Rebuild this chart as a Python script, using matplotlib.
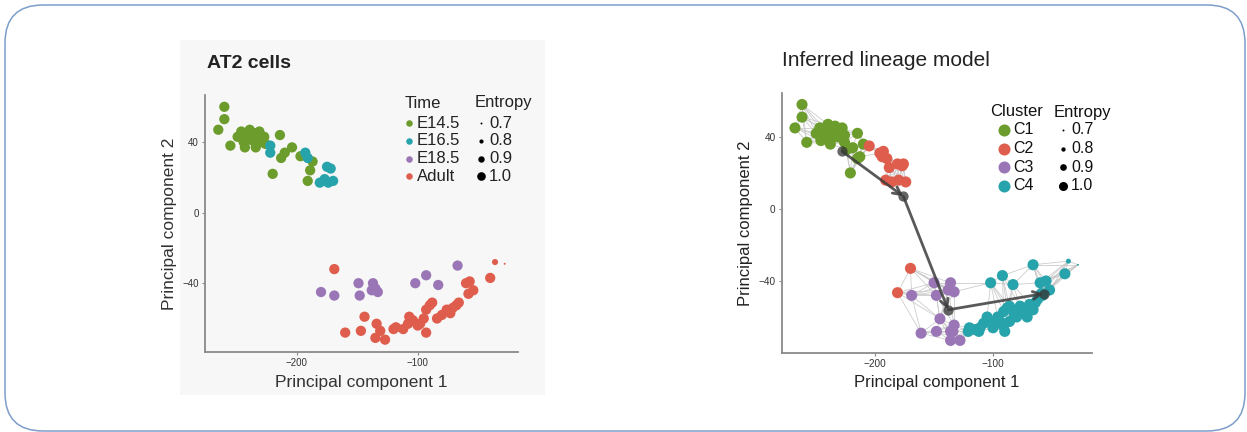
import numpy as np
import matplotlib.pyplot as plt
from matplotlib.patches import FancyBboxPatch, Rectangle
from matplotlib.collections import LineCollection

plt.rcParams['font.family'] = ['Liberation Sans', 'DejaVu Sans']

GREEN = '#6c9c2c'
TEAL = '#27a3ab'
PURPLE = '#9a76b6'
RED = '#df5d4d'

# ---- left panel: AT2 cells coloured by time point
time_labels = ['E14.5', 'E16.5', 'E18.5', 'Adult']

e145_x = [-260, -260, -265, -255, -249, -246, -244, -241, -239, -237, -235, -233, -231, -229,
          -227, -243, -234, -226, -214, -204, -213, -220, -210, -197, -187, -189, -191]
e145_y = [60, 53, 47, 38, 43, 46, 40, 44, 47, 41, 45, 42, 46, 40,
          43, 37, 37, 39, 44, 37, 31, 22, 34, 32, 29, 24, 18]
e145_ent = [1.0, 1.0, 1.0, 1.0, 1.0, 1.0, 1.0, 1.0, 1.0, 1.0, 1.0, 1.0, 1.0, 1.0,
            1.0, 1.0, 1.0, 1.0, 1.0, 1.0, 1.0, 1.0, 1.0, 1.0, 1.0, 1.0, 1.0]

e165_x = [-222, -222, -193, -191, -175, -172, -181, -174, -170, -177]
e165_y = [38, 34, 34, 31, 26, 25, 17, 17, 18, 19]
e165_ent = [1.0, 1.0, 1.0, 1.0, 1.0, 1.0, 1.0, 1.0, 1.0, 1.0]

e185_x = [-180, -169, -149, -148, -137, -135, -138, -133, -102, -93, -83, -67]
e185_y = [-45, -47, -40, -47, -40, -43, -44, -45, -40, -35.5, -41, -30]
e185_ent = [1.0, 1.0, 1.0, 1.0, 1.0, 1.0, 1.0, 1.0, 1.0, 1.0, 1.0, 1.0]

adult_x = [-169, -36, -40, -60, -57, -58, -54, -76, -71, -68, -73, -66, -90, -88, -93, -107,
           -104, -98, -95, -118, -112, -120, -108, -93, -134, -131, -135, -127, -144, -147,
           -160, -80, -100, -84, -28]
adult_y = [-32, -28, -37, -40, -39, -46, -44, -55, -54, -52.5, -57, -51, -52.5, -51, -55, -59,
           -61, -63, -60, -65, -66, -66, -63, -68, -63, -67, -71, -72, -59, -67,
           -68, -58, -64, -60, -29]
adult_ent = [1.0, 0.85, 1.0, 1.0, 1.0, 1.0, 1.0, 1.0, 1.0, 1.0, 1.0, 1.0, 1.0, 1.0, 1.0, 1.0,
             1.0, 1.0, 1.0, 1.0, 1.0, 1.0, 1.0, 1.0, 1.0, 1.0, 1.0, 1.0, 1.0, 1.0,
             1.0, 1.0, 1.0, 1.0, 0.7]

# ---- right panel: inferred clusters
cluster_labels = ['C1', 'C2', 'C3', 'C4']

c1_x = [-262, -262, -268, -258, -250, -247, -244, -242, -240, -238, -236, -234, -232, -230,
        -228, -226, -246, -238, -215, -219, -215, -213, -221, -226, -224, -210, -236]
c1_y = [58, 51, 45, 37, 42, 45, 40, 44, 47, 41, 44, 46, 40, 43,
        45, 41, 38, 36, 42, 34, 28, 29, 20, 37, 33, 36, 43]
c1_ent = [1.0, 1.0, 1.0, 1.0, 1.0, 1.0, 1.0, 1.0, 1.0, 1.0, 1.0, 1.0, 1.0, 1.0,
          1.0, 1.0, 1.0, 1.0, 1.0, 1.0, 1.0, 1.0, 1.0, 1.0, 1.0, 1.0, 1.0]

c2_x = [-205, -196, -193, -190, -194, -188, -181, -177, -176, -191, -186, -180, -174, -170, -181]
c2_y = [35, 31, 32, 28, 29, 23, 25, 24, 25, 16, 15, 16, 15, -33, -46.5]
c2_ent = [1.0, 1.0, 1.0, 1.0, 1.0, 1.0, 1.0, 1.0, 1.0, 1.0, 1.0, 1.0, 1.0, 1.0, 1.0]

c3_x = [-169, -150, -136, -138, -133, -148, -145, -133, -134, -161, -148, -136, -136, -128]
c3_y = [-48, -41, -41, -45, -46, -48, -61, -64.5, -68, -69, -68, -68, -73, -73]
c3_ent = [1.0, 1.0, 1.0, 1.0, 1.0, 1.0, 1.0, 1.0, 1.0, 1.0, 1.0, 1.0, 1.0, 1.0]

c4_x = [-102, -92, -83, -66, -60, -55, -52, -59, -36, -39, -28, -88, -86, -91, -77, -71, -69,
        -66, -74, -71, -105, -102, -108, -97, -94, -100, -111, -91, -86, -90, -120, -115,
        -112, -121, -80, -62, -58, -64, -82, -96]
c4_y = [-41, -37, -42, -31, -41, -40, -45, -47, -29, -36, -31, -55, -54, -57, -54, -55, -53,
        -56, -58, -60, -60, -63, -63.5, -63.5, -62.5, -66, -66, -65, -62.5, -68, -66, -67,
        -68, -68, -60, -50, -48, -52, -58, -60]
c4_ent = [1.0, 1.0, 1.0, 1.0, 1.0, 1.0, 1.0, 1.0, 0.8, 1.0, 0.7, 1.0, 1.0, 1.0, 1.0, 1.0, 1.0,
          1.0, 1.0, 1.0, 1.0, 1.0, 1.0, 1.0, 1.0, 1.0, 1.0, 1.0, 1.0, 1.0, 1.0, 1.0,
          1.0, 1.0, 1.0, 1.0, 1.0, 1.0, 1.0, 1.0]

# lineage path through cluster centres
path_x = [-228, -176, -138, -57]
path_y = [32, 7, -56, -47]

entropy_levels = [0.7, 0.8, 0.9, 1.0]


def ent_size(ent, dmax):
    # marker diameter (pt) grows with entropy
    d = 1.4 + (np.asarray(ent) - 0.7) / 0.3 * (dmax - 1.4)
    return d ** 2


fig = plt.figure(figsize=(12.47, 4.32), dpi=100)

# overlay in pixel coordinates for the frame, titles and legends
ov = fig.add_axes([0, 0, 1, 1])
ov.set_xlim(0, 1247)
ov.set_ylim(432, 0)
ov.axis('off')
ov.set_zorder(0)
ov.add_patch(FancyBboxPatch((5, 5), 1240, 426, boxstyle='round,pad=0,rounding_size=38',
                            fc='none', ec='#7d9dca', lw=1.1))
ov.add_patch(Rectangle((180, 40), 365, 355, fc='#f7f7f7', ec='none'))


def style_axes(ax, xl, yl, tick_fs):
    ax.set_facecolor('none')
    ax.set_zorder(1)
    for s in ['top', 'right']:
        ax.spines[s].set_visible(False)
    for s in ['left', 'bottom']:
        ax.spines[s].set_color('#8a8a8a')
        ax.spines[s].set_linewidth(1.3)
    ax.set_xlim(*xl)
    ax.set_ylim(*yl)
    ax.set_xticks([-200, -100])
    ax.set_yticks([-40, 0, 40])
    ax.tick_params(length=2.5, width=0.8, color='#8a8a8a', labelsize=tick_fs,
                   labelcolor='#333333', pad=2)


# ---- left panel
axL = fig.add_axes([205 / 1247, 80 / 432, 313 / 1247, 257 / 432])
style_axes(axL, (-276, -17), (-79, 66.7), 7)
for xs, ys, es, col in [(e145_x, e145_y, e145_ent, GREEN), (e165_x, e165_y, e165_ent, TEAL),
                        (e185_x, e185_y, e185_ent, PURPLE), (adult_x, adult_y, adult_ent, RED)]:
    axL.scatter(xs, ys, s=ent_size(es, 7.4), c=col, linewidths=0, zorder=3)
axL.set_xlabel('Principal component 1', fontsize=12.5, color='#333333', labelpad=5)
axL.set_ylabel('Principal component 2', fontsize=12.5, color='#333333', labelpad=4)

# ---- right panel
axR = fig.add_axes([782 / 1247, 79 / 432, 310 / 1247, 260 / 432])
style_axes(axR, (-279, -16), (-80, 64.4), 7.2)

# neighbour graph between cells, built on display distances
all_x = np.array(c1_x + c2_x + c3_x + c4_x, dtype=float)
all_y = np.array(c1_y + c2_y + c3_y + c4_y, dtype=float)
disp = axR.transData.transform(np.column_stack([all_x, all_y]))
dist = np.hypot(disp[:, None, 0] - disp[None, :, 0], disp[:, None, 1] - disp[None, :, 1])
segs = set()
for i in range(len(all_x)):
    for j in np.argsort(dist[i])[1:8]:
        segs.add((min(i, j), max(i, j)))
lines = [[(all_x[i], all_y[i]), (all_x[j], all_y[j])] for i, j in segs]
axR.add_collection(LineCollection(lines, colors='#c8c8c8', linewidths=0.55, zorder=2))

for xs, ys, es, col in [(c1_x, c1_y, c1_ent, GREEN), (c2_x, c2_y, c2_ent, RED),
                        (c3_x, c3_y, c3_ent, PURPLE), (c4_x, c4_y, c4_ent, TEAL)]:
    axR.scatter(xs, ys, s=ent_size(es, 8.0), c=col, linewidths=0, zorder=3)

axR.scatter(path_x, path_y, s=55, c='#333333', alpha=0.75, linewidths=0, zorder=4)
for k in range(len(path_x) - 1):
    axR.annotate('', xy=(path_x[k + 1], path_y[k + 1]), xytext=(path_x[k], path_y[k]),
                 arrowprops=dict(arrowstyle='->', color='#3c3c3c', lw=2.0, alpha=0.85,
                                 mutation_scale=14, shrinkA=0, shrinkB=0), zorder=5)
axR.set_xlabel('Principal component 1', fontsize=12, color='#222222', labelpad=4)
axR.set_ylabel('Principal component 2', fontsize=12, color='#222222', labelpad=4)

# ---- titles
ov.text(207, 63, 'AT2 cells', fontsize=14, fontweight='bold', color='#222222', va='center')
ov.text(782, 60, 'Inferred lineage model', fontsize=15, color='#222222', va='center')

# ---- legends
ov.text(405, 103, 'Time', fontsize=12, color='#222222', va='center')
ov.text(475, 103, 'Entropy', fontsize=12, color='#222222', va='center')
for k, (lab, col) in enumerate(zip(time_labels, [GREEN, TEAL, PURPLE, RED])):
    yy = 123 + k * 17.8
    ov.scatter([409], [yy], s=22, c=col, linewidths=0)
    ov.text(417, yy, lab, fontsize=12, color='#222222', va='center')
    ov.scatter([481], [yy], s=ent_size(entropy_levels[k], 6.2), c='black', linewidths=0)
    ov.text(489, yy, f'{entropy_levels[k]:.1f}', fontsize=12, color='#222222', va='center')

ov.text(990, 112, 'Cluster', fontsize=12, color='#111111', va='center')
ov.text(1054, 112, 'Entropy', fontsize=12, color='#111111', va='center')
for k, (lab, col) in enumerate(zip(cluster_labels, [GREEN, RED, PURPLE, TEAL])):
    yy = 130 + k * 18.5
    ov.scatter([1004], [yy], s=75, c=col, linewidths=0)
    ov.text(1013, yy, lab, fontsize=11.5, color='#111111', va='center')
    ov.scatter([1063], [yy], s=ent_size(entropy_levels[k], 6.5), c='black', linewidths=0)
    ov.text(1071, yy, f'{entropy_levels[k]:.1f}', fontsize=11.5, color='#111111', va='center')

fig.savefig('out.png', dpi=100)
